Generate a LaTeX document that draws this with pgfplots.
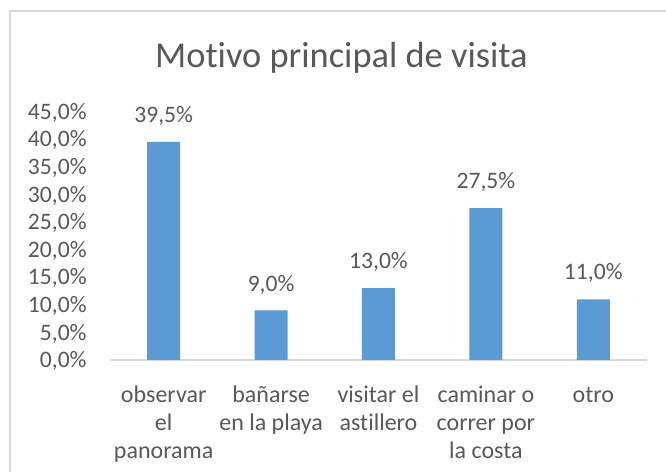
\documentclass[border=0pt]{standalone}
\usepackage{pgfplots}
\pgfplotsset{compat=1.18}
\usepackage{fontspec}
\setmainfont{Carlito}[Ligatures=NoCommon]
\definecolor{barblue}{HTML}{5B9BD5}
\definecolor{txtgray}{HTML}{595959}
\definecolor{linegray}{HTML}{D9D9D9}
\begin{document}
\begin{tikzpicture}[x=1pt,y=1pt]
\clip (0,0) rectangle (333,236);
\path[fill=white] (0,0) rectangle (333,236);
\draw[linegray, line width=0.6pt] (5,-20) rectangle (360,230.5);
\node[anchor=base, text=txtgray, font=\fontsize{18.2}{22}\selectfont, inner sep=0pt] at (170.75,202) {Motivo principal de visita};
\begin{axis}[
  at={(55pt,56pt)}, anchor=south west,
  scale only axis,
  width=268.5pt, height=124.2pt,
  xmin=-0.5, xmax=4.5, ymin=0, ymax=45,
  /pgf/number format/assume math mode=true,
  axis x line*=bottom, axis y line*=left,
  x axis line style={linegray, line width=0.6pt, -},
  y axis line style={draw=none},
  major tick length=0pt,
  ytick={0,5,...,45},
  yticklabel={\pgfmathprintnumber[fixed,fixed zerofill,precision=1,use comma]{\tick}\%},
  yticklabel style={font=\fontsize{11.8}{14}\selectfont, text=txtgray, anchor=base east, inner sep=0pt, xshift=-11.5pt, yshift=-3.8pt},
  xtick={0,1,2,3,4},
  xticklabels={{\strut observar\\el\\panorama},{\strut ba\~narse\\en la playa},{\strut visitar el\\astillero},{\strut caminar o\\correr por\\la costa},{\strut otro}},
  xticklabel style={font=\fontsize{12}{14}\selectfont, text=txtgray, align=center, anchor=north, inner sep=0pt, yshift=-11.35pt},
  ybar, bar width=16.5pt,
  nodes near coords={\pgfmathprintnumber[fixed,fixed zerofill,precision=1,use comma]{\pgfplotspointmeta}\%},
  nodes near coords style={font=\fontsize{11.8}{14}\selectfont, text=txtgray, anchor=base, inner sep=0pt, yshift=9.65pt},
  clip=false,
]
\addplot[fill=barblue, draw=none] coordinates {(0,39.5) (1,9.0) (2,13.0) (3,27.5) (4,11.0)};
\end{axis}
\end{tikzpicture}
\end{document}
